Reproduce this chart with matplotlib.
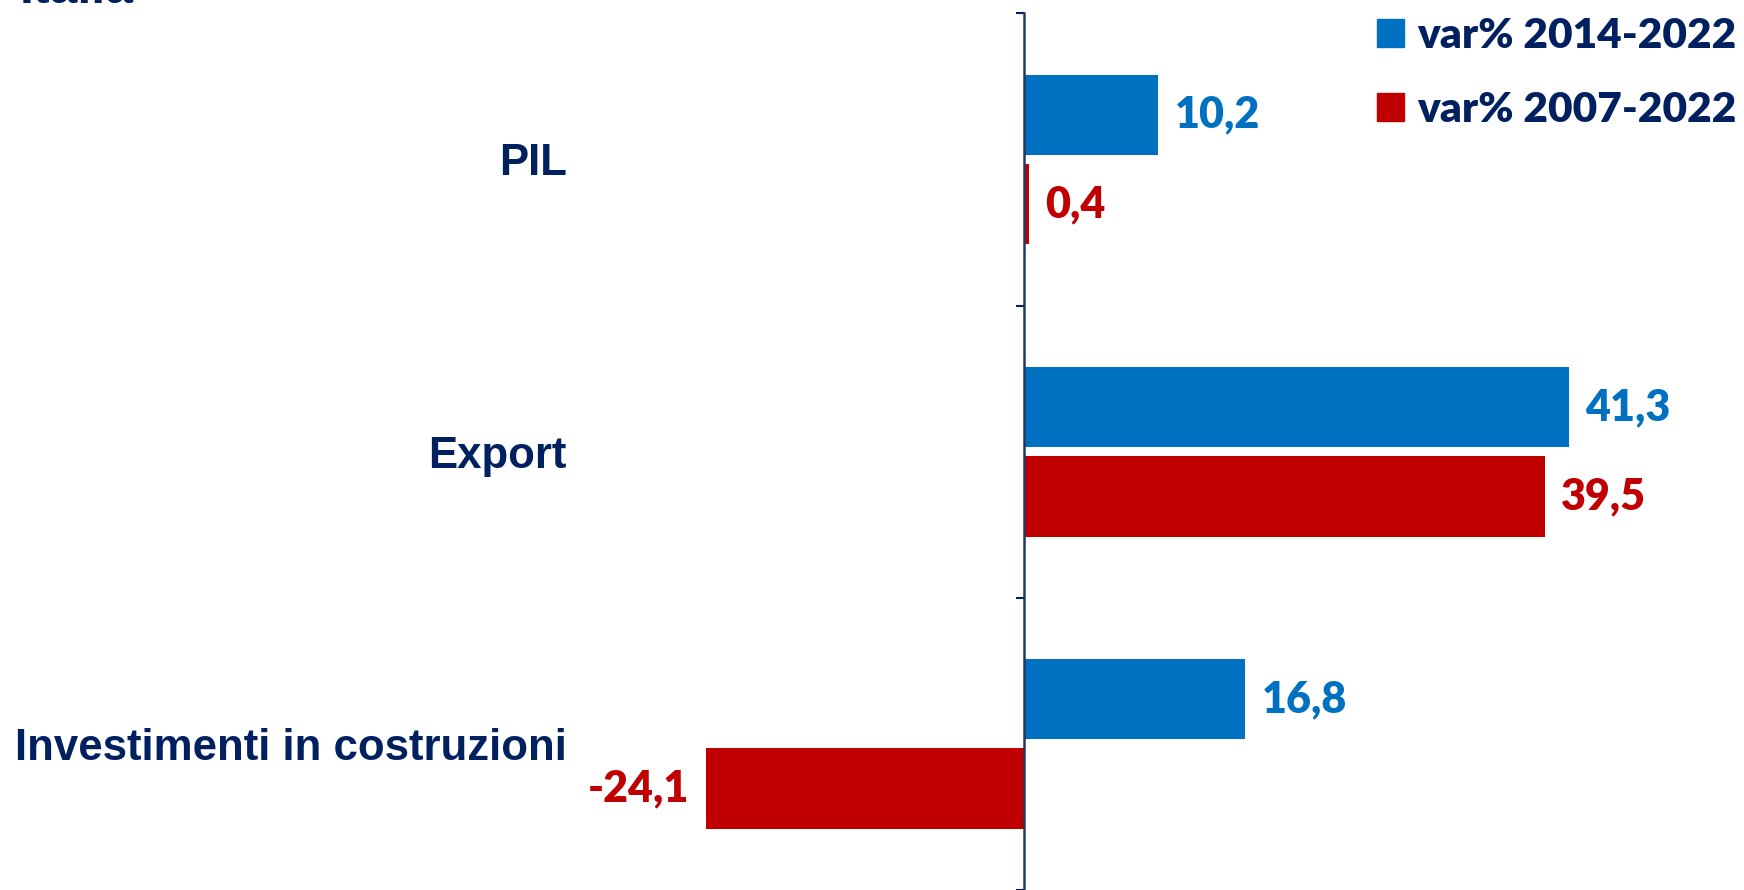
import matplotlib.pyplot as plt
from matplotlib.patches import Patch
from matplotlib.transforms import blended_transform_factory
import numpy as np

categories = ["PIL", "Export", "Investimenti in costruzioni"]
var_2014_2022 = [10.2, 41.3, 16.8]
var_2007_2022 = [0.4, 39.5, -24.1]
series_names = ["var% 2014-2022", "var% 2007-2022"]

BLUE = "#0070C0"
RED = "#C00000"
NAVY = "#002060"

fig = plt.figure(figsize=(17.44, 8.90), dpi=100)
ax = fig.add_axes([0.335, 0.0, 0.665, 0.985])

y = np.arange(len(categories))
h = 0.275
off = 0.153
ax.barh(y - off, var_2014_2022, height=h, color=BLUE)
ax.barh(y + off, var_2007_2022, height=h, color=RED)

ax.set_xlim(-33.3, 54.6)
ax.set_ylim(2.5, -0.5)

# value labels, comma as decimal separator
for yi, v in zip(y - off, var_2014_2022):
    ax.annotate(f"{v:.1f}".replace(".", ","), (v, yi), xytext=(12, 0),
                textcoords="offset points", ha="left", va="center",
                color=BLUE, fontsize=31, fontweight="heavy", family="Lato")
for yi, v in zip(y + off, var_2007_2022):
    dx = 12 if v >= 0 else -12
    ax.annotate(f"{v:.1f}".replace(".", ","), (v, yi), xytext=(dx, 0),
                textcoords="offset points", ha="left" if v >= 0 else "right",
                va="center", color=RED, fontsize=31, fontweight="heavy",
                family="Lato")

# category labels on the left
tr = blended_transform_factory(ax.transAxes, ax.transData)
for yi, name in zip(y, categories):
    ax.text(-0.015, yi, name, transform=tr, ha="right", va="center_baseline",
            fontsize=31.5, fontweight="bold", color=NAVY,
            family="Liberation Sans")

# only the vertical axis at zero, with ticks between groups
for s in ["top", "right", "bottom"]:
    ax.spines[s].set_visible(False)
ax.spines["left"].set_position(("data", 0))
ax.spines["left"].set_color("#1F3864")
ax.spines["left"].set_linewidth(1.8)
ax.set_yticks(np.arange(-0.5, len(categories) + 0.5, 1.0))
ax.set_yticklabels([])
ax.tick_params(axis="y", direction="out", length=6, width=1.5, color=NAVY)
ax.set_xticks([])

handles = [Patch(color=BLUE), Patch(color=RED)]
leg = ax.legend(handles, series_names, loc="upper right",
                bbox_to_anchor=(1.019, 1.03), frameon=False,
                prop={"family": "Lato", "weight": "heavy", "size": 30.5},
                handlelength=0.65, handleheight=0.65, handletextpad=0.3,
                labelspacing=0.85, borderaxespad=0.3)
for t in leg.get_texts():
    t.set_color(NAVY)

# title cut off at the top edge
fig.text(20 / 1744, 1 - 3 / 890, "Italia", ha="left", va="baseline",
         fontsize=36, fontweight="bold", color=NAVY,
         family="Liberation Sans")

fig.savefig("out.png", dpi=100)
